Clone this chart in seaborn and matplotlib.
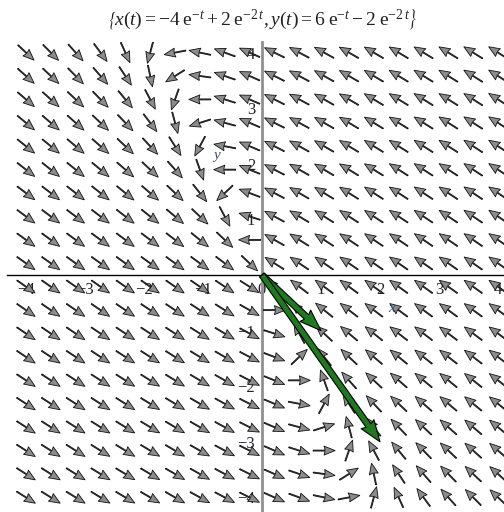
import numpy as np
import matplotlib
matplotlib.use("Agg")
import matplotlib.pyplot as plt
import seaborn as sns

# ---- data ----
# linear system x' = A [x, y]  (solution x(t)=-4e^-t+2e^-2t, y(t)=6e^-t-2e^-2t)
A_row_x = [-4.0, -2.0]
A_row_y = [3.0, 1.0]
grid_min, grid_max, grid_n = -4.0, 4.0, 20
# eigenvector arrows (green)
eig_u = [1.0, 2.0]
eig_v = [-1.0, -3.0]
tick_vals = [-4, -3, -2, -1, 0, 1, 2, 3, 4]
title_text = (r"$\left\{x(t) = -4\;\mathrm{e}^{-t} + 2\;\mathrm{e}^{-2\,t},"
              r" y(t) = 6\;\mathrm{e}^{-t} - 2\;\mathrm{e}^{-2\,t}\right\}$")

sns.set_style("white")
plt.rcParams["font.family"] = ["Liberation Serif", "DejaVu Serif"]
plt.rcParams["mathtext.fontset"] = "custom"
plt.rcParams["mathtext.rm"] = "Liberation Serif"
plt.rcParams["mathtext.it"] = "Liberation Serif:italic"

W, H = 504, 512
fig = plt.figure(figsize=(W / 100, H / 100), dpi=100)
# pixel geometry
x0_px, sx = 262.0, 59.0
y0_px, sy = 275.0, 55.6
left_px, right_px, top_px, bot_px = 7, 504, 42, 512
ax = fig.add_axes([left_px / W, 1 - bot_px / H, (right_px - left_px) / W, (bot_px - top_px) / H])
ax.set_xlim((left_px - x0_px) / sx, (right_px - x0_px) / sx)
ax.set_ylim((y0_px - bot_px) / sy, (y0_px - top_px) / sy)

# direction field
g = np.linspace(grid_min, grid_max, grid_n)
X, Y = np.meshgrid(g, g)
U = A_row_x[0] * X + A_row_x[1] * Y
V = A_row_y[0] * X + A_row_y[1] * Y
Lpx = 22.0
n = np.hypot(U * sx, V * sy)
Un = Lpx * U / n
Vn = Lpx * V / n
ax.quiver(X, Y, Un, Vn, angles="xy", scale_units="xy", scale=1, pivot="middle",
          units="dots", width=1.0, headwidth=9, headlength=11, headaxislength=10,
          facecolor="#8c8c8c", edgecolor="#111111", linewidth=0.6, zorder=3)

# eigenvector arrows
ax.quiver([0, 0], [0, 0], eig_u, eig_v, angles="xy", scale_units="xy", scale=1,
          units="dots", width=6.0, headwidth=2.6, headlength=3.6, headaxislength=3.3,
          facecolor="#1f7a1f", edgecolor="black", linewidth=0.8, zorder=4)

# axes through origin
for s in ["top", "right"]:
    ax.spines[s].set_visible(False)
ax.spines["left"].set_position(("data", 0))
ax.spines["bottom"].set_position(("data", 0))
ax.spines["left"].set_color("#909090")
ax.spines["left"].set_linewidth(2.0)
ax.spines["bottom"].set_color("black")
ax.spines["bottom"].set_linewidth(1.0)
ax.set_xticks(tick_vals)
ax.set_yticks(tick_vals)
ax.set_xticks(np.arange(-4, 4.01, 0.5), minor=True)
ax.set_yticks(np.arange(-4, 4.01, 0.5), minor=True)
lab = [("\u2212" + str(-v)) if v < 0 else str(v) for v in tick_vals]
ax.set_xticklabels(lab)
ax.set_yticklabels([l if v != 0 else "" for l, v in zip(lab, tick_vals)])
ax.tick_params(axis="both", which="both", direction="out", length=4, width=0.8,
               color="#555555", labelsize=12, labelcolor="#222233", pad=1)
ax.patch.set_alpha(0)

ax.text(2.2, -0.6, "x", fontstyle="italic", fontsize=11, color="#3a4a8a", ha="center", va="center")
ax.text(-0.77, 2.15, "y", fontstyle="italic", fontsize=11, color="#3a4a8a", ha="center", va="center")

fig.text(262 / W, 1 - 20 / H, title_text, ha="center", va="center", fontsize=14, color="#222222")

fig.savefig("out.png", dpi=100)
